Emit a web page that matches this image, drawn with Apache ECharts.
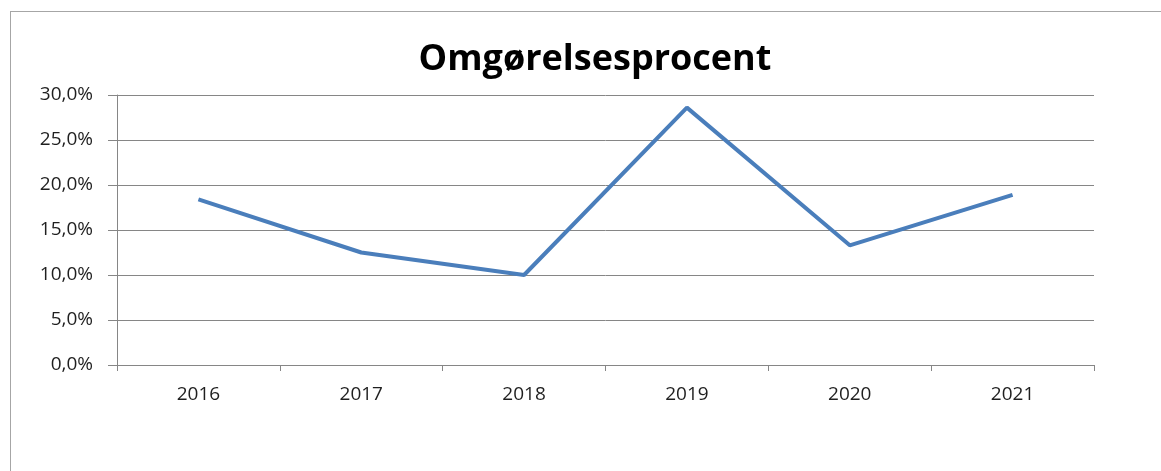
<!DOCTYPE html>
<html>
<head>
<meta charset="utf-8">
<script src="https://cdn.jsdelivr.net/npm/echarts@6/dist/echarts.min.js"></script>
<style>
	html, body { margin: 0; padding: 0; background: #fff; overflow: hidden; }
	#frame {
		position: absolute; left: 10px; top: 11px; width: 1200px; height: 520px;
		border: 1px solid #a6a6a6; box-sizing: border-box;
	}
	#chart { position: absolute; left: 0; top: 0; width: 1161px; height: 471px; }
</style>
</head>
<body>
<div id="frame"></div>
<div id="chart"></div>
<script>
	var years = ['2016', '2017', '2018', '2019', '2020', '2021']
	var percent = [18.4, 12.5, 10.0, 28.6, 13.3, 18.9]
	var titleText = 'Omgørelsesprocent'

	var chart = echarts.init(document.getElementById('chart'))
	chart.setOption({
		animation: false,
		title: {
			text: titleText,
			left: 590,
			textAlign: 'center',
			top: 37,
			textStyle: {
				color: '#000',
				fontSize: 36,
				fontWeight: 'bold',
				fontFamily: 'Open Sans'
			}
		},
		grid: {
			left: 117,
			right: 67,
			top: 95,
			bottom: 106
		},
		xAxis: {
			type: 'category',
			data: years,
			boundaryGap: true,
			axisLine: { lineStyle: { color: '#868686', width: 1 } },
			axisTick: { show: true, length: 6, lineStyle: { color: '#868686' } },
			axisLabel: {
				color: '#1f1f1f',
				fontSize: 19,
				fontFamily: 'Open Sans',
				margin: 20
			}
		},
		yAxis: {
			type: 'value',
			min: 0,
			max: 30,
			interval: 5,
			axisLine: { show: true, lineStyle: { color: '#868686' } },
			axisTick: { show: true, length: 9, lineStyle: { color: '#868686' } },
			axisLabel: {
				color: '#1f1f1f',
				fontSize: 19,
				fontFamily: 'Open Sans',
				margin: 24,
				formatter: function(v) {
					return v.toFixed(1).replace('.', ',') + '%'
				}
			},
			splitLine: { lineStyle: { color: '#868686', width: 1 } }
		},
		series: [{
			type: 'line',
			data: percent,
			symbol: 'none',
			lineStyle: { color: '#4a7ebb', width: 4 },
			itemStyle: { color: '#4a7ebb' }
		}]
	})
</script>
</body>
</html>
